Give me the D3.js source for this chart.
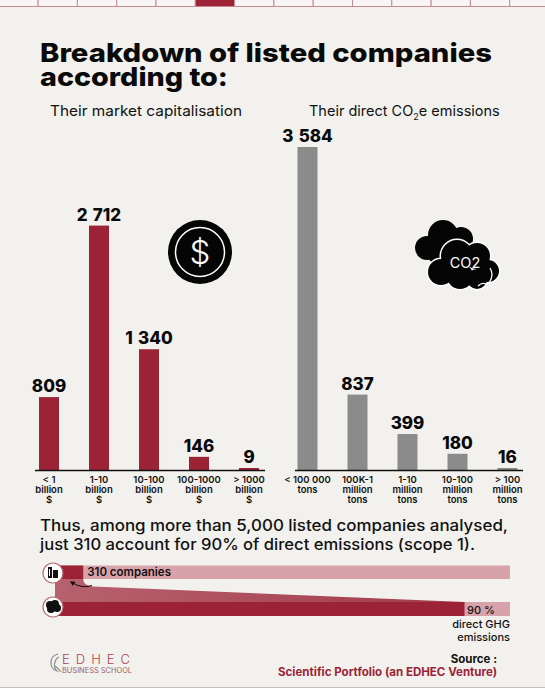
<!DOCTYPE html>
<html>
<head>
<meta charset="utf-8">
<script src="https://cdn.jsdelivr.net/npm/d3@7"></script>
<style>
  html, body { margin: 0; padding: 0; background: #f2f1ee; }
  svg { display: block; }
  text { font-family: Inter, "Open Sans", sans-serif; }
</style>
</head>
<body>
<svg id="chart" width="545" height="688"></svg>
<script>
// ---------- DATA ----------
const capCategories = [["< 1", "billion", "$"], ["1-10", "billion", "$"], ["10-100", "billion", "$"], ["100-1000", "billion", "$"], ["> 1000", "billion", "$"]];
const capValues = [809, 2712, 1340, 146, 9];
const co2Categories = [["< 100 000", "tons"], ["100K-1", "million", "tons"], ["1-10", "million", "tons"], ["10-100", "million", "tons"], ["> 100", "million", "tons"]];
const co2Values = [3584, 837, 399, 180, 16];
const totalCompanies = 5000;
const topCompanies = 310;
const emissionShare = 90;
const titleLines = ["Breakdown of listed companies", "according to:"];
const summaryLines = ["Thus, among more than 5,000 listed companies analysed,", "just 310 account for 90% of direct emissions (scope 1)."];

// ---------- STYLE ----------
const RED = "#9b2335";
const GREY = "#8b8b8b";
const PINK = "#d8a2ab";
const BG = "#f2f1ee";

const svg = d3.select("#chart");
svg.append("rect").attr("width", 545).attr("height", 688).attr("fill", BG);

const defs = svg.append("defs");
const grad = defs.append("linearGradient").attr("id", "band").attr("x1", "0").attr("x2", "1").attr("y1", "0").attr("y2", "0");
grad.append("stop").attr("offset", "0").attr("stop-color", "#b7626f");
grad.append("stop").attr("offset", "1").attr("stop-color", "#a33a4b");
defs.append("marker").attr("id", "arrow").attr("viewBox", "0 0 10 10").attr("refX", 5).attr("refY", 5)
  .attr("markerWidth", 5).attr("markerHeight", 5).attr("orient", "auto-start-reverse")
  .append("path").attr("d", "M0,0 L10,5 L0,10 z").attr("fill", "#111");

// ---------- TOP STRIP ----------
const strip = d3.range(14);
const stripX = d3.scaleLinear().domain([0, 14]).range([-1.2, -1.2 + 14 * 39.3]);
svg.append("g").selectAll("rect").data(strip).join("rect")
  .attr("x", d => stripX(d)).attr("y", -1).attr("width", 39.3).attr("height", 7.5)
  .attr("fill", d => d === 5 ? RED : "#f7f5f5")
  .attr("stroke", "#c98a94").attr("stroke-width", 1);

// ---------- TITLE ----------
const title = svg.append("text").attr("x", 40).attr("y", 62).attr("font-size", 26).attr("font-weight", 800).attr("fill", "#0a0a0a");
title.append("tspan").attr("x", 40).attr("y", 62).attr("textLength", 452).attr("lengthAdjust", "spacingAndGlyphs").text(titleLines[0]);
title.append("tspan").attr("x", 40).attr("y", 86).attr("textLength", 188).attr("lengthAdjust", "spacingAndGlyphs").text(titleLines[1]);

svg.append("text").attr("x", 50).attr("y", 116).attr("font-size", 14.5).attr("font-weight", 400)
  .attr("fill", "#111").attr("textLength", 192).attr("lengthAdjust", "spacingAndGlyphs").text("Their market capitalisation");
const sub2 = svg.append("text").attr("x", 309).attr("y", 116).attr("font-size", 14.5).attr("font-weight", 400).attr("fill", "#111");
sub2.append("tspan").text("Their direct CO");
sub2.append("tspan").attr("font-size", 9).attr("dy", 4).text("2");
sub2.append("tspan").attr("dy", -4).text("e emissions");

// ---------- BAR CHARTS ----------
const y = d3.scaleLinear().domain([0, 3584]).range([470, 147]);
const fmt = v => d3.format(",")(v).replace(/,/g, " ");

function barChart(values, cats, range, color, axisX) {
  const x = d3.scaleBand().domain(d3.range(values.length)).range(range).paddingInner(0.6).paddingOuter(0.3);
  const g = svg.append("g");
  g.selectAll("rect.bar").data(values).join("rect").attr("class", "bar")
    .attr("x", (d, i) => x(i)).attr("width", x.bandwidth())
    .attr("y", d => Math.min(y(d), y(0) - 2)).attr("height", d => Math.max(y(0) - y(d), 2))
    .attr("fill", color);
  g.selectAll("text.val").data(values).join("text").attr("class", "val")
    .attr("x", (d, i) => x(i) + x.bandwidth() / 2)
    .attr("y", d => Math.min(y(d), y(0) - 2) - 5)
    .attr("text-anchor", "middle").attr("font-size", 17).attr("font-weight", 800).attr("fill", "#0a0a0a")
    .attr("word-spacing", 1.5)
    .text(d => fmt(d));
  g.append("line").attr("x1", axisX[0]).attr("x2", axisX[1]).attr("y1", y(0) + 0.5).attr("y2", y(0) + 0.5)
    .attr("stroke", "#111").attr("stroke-width", 1.5);
  const lab = g.selectAll("text.cat").data(cats).join("text").attr("class", "cat")
    .attr("x", (d, i) => x(i) + x.bandwidth() / 2).attr("y", 483)
    .attr("text-anchor", "middle").attr("font-size", 9.5).attr("font-weight", 600).attr("fill", "#111");
  lab.selectAll("tspan").data(d => d).join("tspan")
    .attr("x", function () { return d3.select(this.parentNode).attr("x"); })
    .attr("dy", (d, i) => i === 0 ? 0 : 10).text(d => d);
}
barChart(capValues, capCategories, [24, 274], RED, [35, 265]);
barChart(co2Values, co2Categories, [282.5, 532.5], GREY, [295, 523]);

// ---------- ICONS ----------
const dollar = svg.append("g").attr("transform", "translate(200,252)");
dollar.append("circle").attr("r", 32).attr("fill", "#050505");
dollar.append("circle").attr("r", 24.5).attr("fill", "none").attr("stroke", "#fff").attr("stroke-width", 1.5);
dollar.append("text").attr("y", 12).attr("text-anchor", "middle").attr("font-size", 33).attr("font-weight", 300)
  .attr("fill", "#fff").text("$");

const cloud = svg.append("g");
const backCloud = [[427, 248, 12], [443, 235, 15], [461, 239, 12], [438, 253, 11], [468, 249, 8]];
cloud.selectAll("circle.b").data(backCloud).join("circle").attr("class", "b")
  .attr("cx", d => d[0]).attr("cy", d => d[1]).attr("r", d => d[2]).attr("fill", "#050505");
const frontCloud = [[441, 272, 13], [457, 256, 16], [477, 256, 13], [488, 271, 11], [460, 276, 13], [477, 279, 10]];
cloud.selectAll("circle.fo").data(frontCloud).join("circle").attr("class", "fo")
  .attr("cx", d => d[0]).attr("cy", d => d[1]).attr("r", d => d[2]).attr("fill", "#050505")
  .attr("stroke", "#fff").attr("stroke-width", 3);
cloud.selectAll("circle.ff").data(frontCloud).join("circle").attr("class", "ff")
  .attr("cx", d => d[0]).attr("cy", d => d[1]).attr("r", d => d[2]).attr("fill", "#050505");
cloud.append("path").attr("d", "M478,286 q4,-4 8,-2 q5,-1 6,-9 q0,-4 -2,-7").attr("fill", "none")
  .attr("stroke", "#fff").attr("stroke-width", 1.3);
cloud.append("text").attr("x", 465).attr("y", 268).attr("text-anchor", "middle").attr("font-size", 14.5)
  .attr("font-weight", 400).attr("fill", "#fff").text("CO2");

// ---------- SUMMARY TEXT ----------
svg.append("text").attr("x", 40).attr("y", 531).attr("font-size", 15.5).attr("font-weight", 500).attr("fill", "#111")
  .attr("textLength", 468).attr("lengthAdjust", "spacingAndGlyphs").text(summaryLines[0]);
svg.append("text").attr("x", 40).attr("y", 550).attr("font-size", 15.5).attr("font-weight", 500).attr("fill", "#111")
  .attr("textLength", 435).attr("lengthAdjust", "spacingAndGlyphs").text(summaryLines[1]);

// ---------- FLOW DIAGRAM ----------
const xc = d3.scaleLinear().domain([0, totalCompanies]).range([55, 510]);
const xe = d3.scaleLinear().domain([0, 100]).range([55, 510]);
const fg = svg.append("g");
fg.append("path").attr("fill", "url(#band)")
  .attr("d", `M${xc(0)},579 L${xc(topCompanies)},579 Q${xc(topCompanies)},586 ${xc(topCompanies) + 10},586.5 L${xe(emissionShare)},602 L${xe(0)},602 Z`);
fg.append("rect").attr("x", xc(0)).attr("y", 565.5).attr("width", xc(totalCompanies) - xc(0)).attr("height", 13.5).attr("fill", PINK);
fg.append("rect").attr("x", xc(0)).attr("y", 565.5).attr("width", xc(topCompanies) - xc(0)).attr("height", 13.5).attr("fill", RED);
fg.append("rect").attr("x", xe(0)).attr("y", 602).attr("width", xe(100) - xe(0)).attr("height", 14).attr("fill", PINK);
fg.append("rect").attr("x", xe(0)).attr("y", 602).attr("width", xe(emissionShare) - xe(0)).attr("height", 14).attr("fill", RED);
fg.append("text").attr("x", xc(topCompanies) + 4).attr("y", 575.5).attr("font-size", 11.5).attr("font-weight", 600)
  .attr("fill", "#111").text(topCompanies + " companies");
fg.append("text").attr("x", xe(emissionShare) + 2.5).attr("y", 613.5).attr("font-size", 11).attr("font-weight", 500)
  .attr("fill", "#111").text(emissionShare + " %");
fg.append("text").attr("x", 510).attr("y", 628).attr("text-anchor", "end").attr("font-size", 11).attr("font-weight", 500)
  .attr("fill", "#111").text("direct GHG");
fg.append("text").attr("x", 510).attr("y", 641).attr("text-anchor", "end").attr("font-size", 11).attr("font-weight", 500)
  .attr("fill", "#111").text("emissions");
fg.append("path").attr("d", "M92,585.5 Q82,589 72,582.5").attr("fill", "none").attr("stroke", "#111")
  .attr("stroke-width", 1).attr("marker-end", "url(#arrow)");
const ic1 = fg.append("g").attr("transform", "translate(53,573)");
ic1.append("circle").attr("r", 10).attr("fill", "#fff").attr("stroke", "#b56a76").attr("stroke-width", 1.2);
ic1.append("rect").attr("x", -5).attr("y", -6).attr("width", 4).attr("height", 11).attr("fill", "#111");
ic1.append("rect").attr("x", 0).attr("y", -3).attr("width", 5).attr("height", 8).attr("fill", "#111");
ic1.append("rect").attr("x", -4).attr("y", -4).attr("width", 1).attr("height", 7).attr("fill", "#fff");
const ic2 = fg.append("g").attr("transform", "translate(53,607)");
ic2.append("circle").attr("r", 10).attr("fill", "#fff").attr("stroke", "#b56a76").attr("stroke-width", 1.2);
ic2.selectAll("circle.c").data([[-3, -2, 4], [2, -3, 4], [4, 1, 4], [-2, 2, 4]]).join("circle").attr("class", "c")
  .attr("cx", d => d[0]).attr("cy", d => d[1]).attr("r", d => d[2]).attr("fill", "#111");

// ---------- FOOTER ----------
svg.append("text").attr("x", 497).attr("y", 663).attr("text-anchor", "end").attr("font-size", 11.5).attr("font-weight", 700)
  .attr("fill", "#111").text("Source :");
svg.append("text").attr("x", 497).attr("y", 676).attr("text-anchor", "end").attr("font-size", 11.5).attr("font-weight", 700)
  .attr("fill", RED).attr("textLength", 219).attr("lengthAdjust", "spacingAndGlyphs").text("Scientific Portfolio (an EDHEC Venture)");

const logo = svg.append("g");
logo.append("path").attr("d", "M58,654 q-8,2 -7,10 q1,6 6,7 q-4,-4 -2,-9 q1,-4 4,-5 M55,666 q3,2 6,6")
  .attr("fill", "none").attr("stroke", "#8a8f8c").attr("stroke-width", 1.2);
logo.append("text").attr("x", 62).attr("y", 664).attr("font-size", 13).attr("font-weight", 300)
  .attr("fill", "#a84856").attr("textLength", 68).attr("lengthAdjust", "spacing").text("EDHEC");
logo.append("text").attr("x", 62).attr("y", 673).attr("font-size", 7).attr("font-weight", 400)
  .attr("fill", "#9a6068").attr("textLength", 70).attr("lengthAdjust", "spacingAndGlyphs").text("BUSINESS SCHOOL");

svg.append("line").attr("x1", 0).attr("x2", 545).attr("y1", 687.5).attr("y2", 687.5).attr("stroke", "#c4c2c0").attr("stroke-width", 1);
</script>
</body>
</html>
